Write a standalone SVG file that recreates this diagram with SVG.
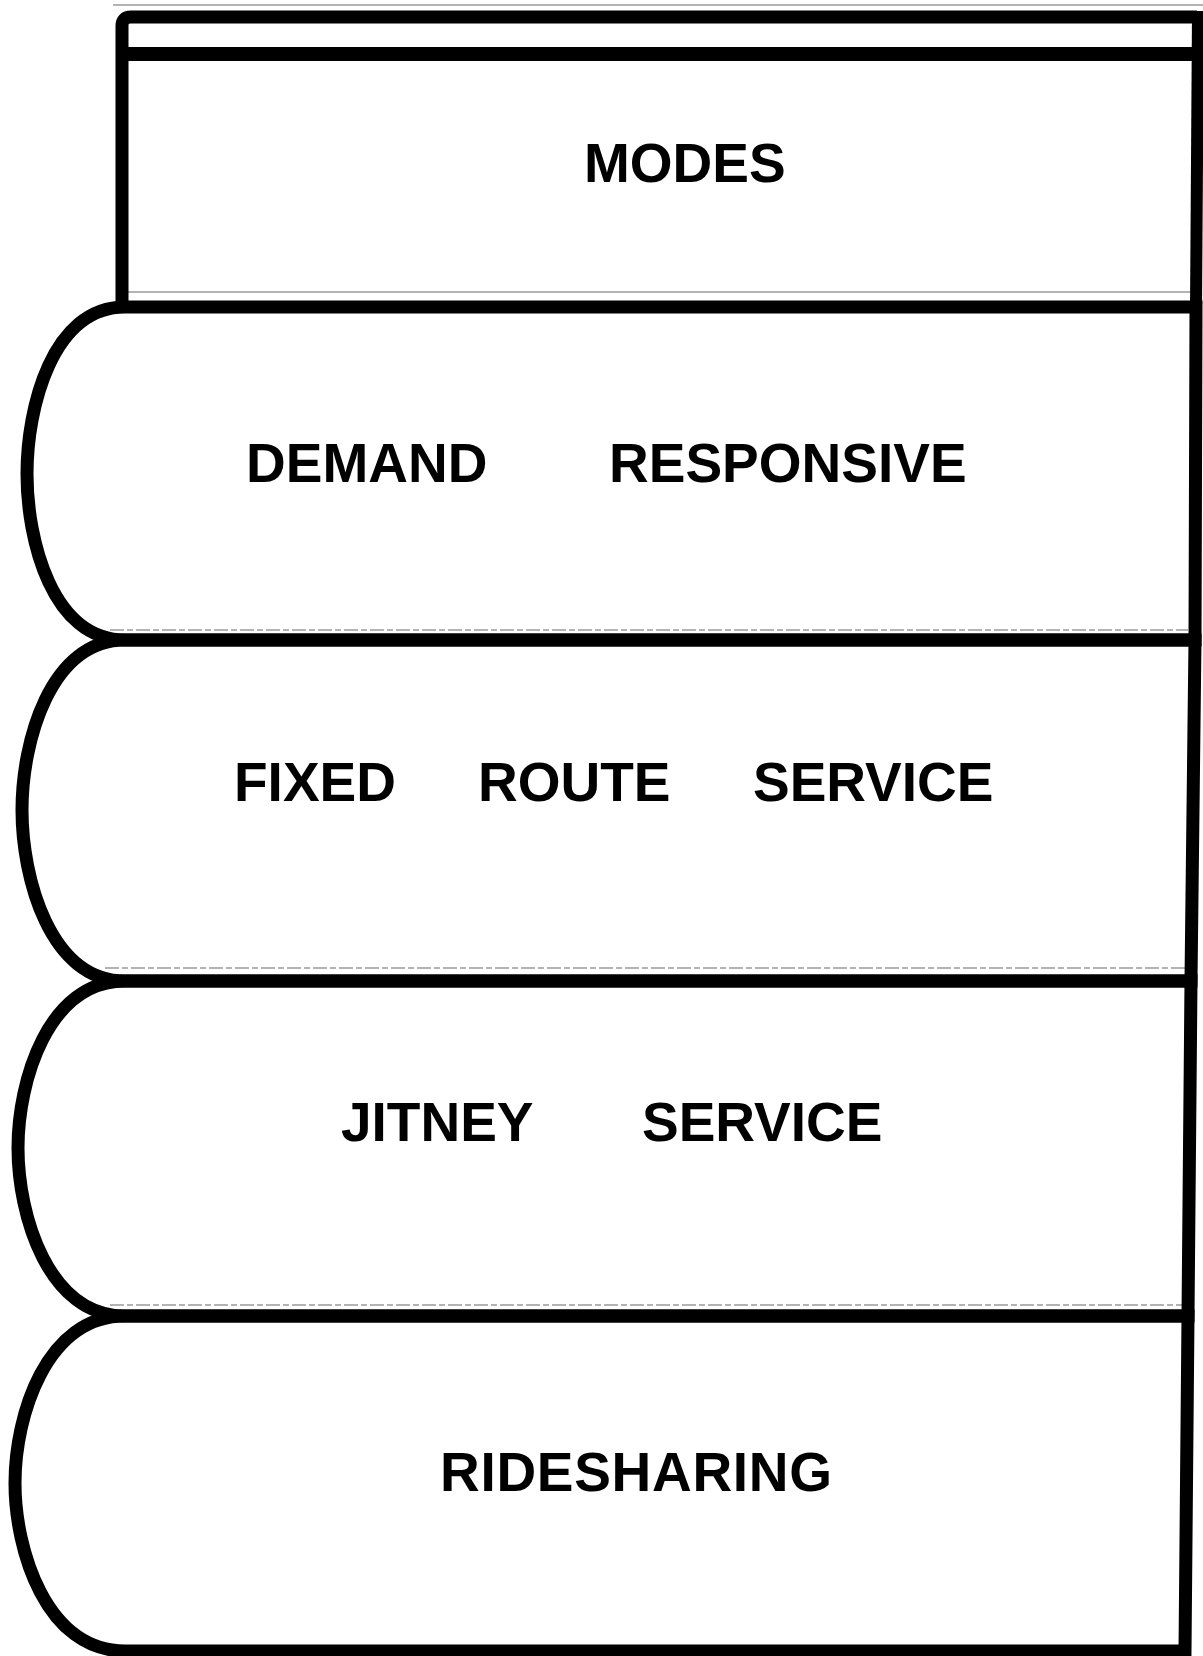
<svg xmlns="http://www.w3.org/2000/svg" width="1203" height="1656" viewBox="0 0 1203 1656">
<style>
.band{fill:none;stroke:#000;stroke-width:13;stroke-linejoin:miter}
.lbl{font-family:"Liberation Sans",Arial,sans-serif;font-weight:bold;font-size:55px;fill:#000}
.scan{stroke:#9a9a9a;stroke-width:1.5;fill:none}
</style>
<rect width="1203" height="1656" fill="#fff"/>
<g id="scan-lines">
<line class="scan" x1="113" y1="5" x2="1203" y2="5"/>
<line class="scan" x1="128" y1="292" x2="1192" y2="292"/>
<line class="scan" x1="110" y1="630" x2="1188" y2="630" stroke-dasharray="14 3 6 3"/>
<line class="scan" x1="105" y1="968" x2="1186" y2="968" stroke-dasharray="14 3 6 3"/>
<line class="scan" x1="110" y1="1305" x2="1182" y2="1305" stroke-dasharray="14 3 6 3"/>
</g>
<g id="modes">
<path class="band" d="M1197,17 L131,17 Q122,17 122,26 L122,307"/>
<line x1="122" y1="54" x2="1196" y2="54" stroke="#000" stroke-width="14"/>
<line x1="1198" y1="11" x2="1196" y2="310" stroke="#000" stroke-width="12"/>
<text class="lbl" x="584" y="182">MODES</text>
</g>
<g id="demand-responsive">
<path class="band" d="M125,307 L1196,307 L1195,640 L125,640 C52,640 27,540 27,474 C27,408 52,307 125,307 Z"/>
<text class="lbl" x="246" y="482">DEMAND</text>
<text class="lbl" x="609" y="482">RESPONSIVE</text>
</g>
<g id="fixed-route-service">
<path class="band" d="M125,640 L1195,640 L1191,981 L125,981 C50,981 22,878 22,810 C22,742 50,640 125,640 Z"/>
<text class="lbl" x="234" y="801">FIXED</text>
<text class="lbl" x="478" y="801">ROUTE</text>
<text class="lbl" x="753" y="801">SERVICE</text>
</g>
<g id="jitney-service">
<path class="band" d="M125,981 L1191,981 L1188,1316 L125,1316 C48,1316 18,1215 18,1148 C18,1081 48,981 125,981 Z"/>
<text class="lbl" x="341" y="1141">JITNEY</text>
<text class="lbl" x="642" y="1141">SERVICE</text>
</g>
<g id="ridesharing">
<path class="band" d="M125,1316 L1188,1316 L1185,1651 L125,1651 C46,1651 15,1550 15,1483 C15,1416 46,1316 125,1316 Z"/>
<text class="lbl" x="440" y="1491" letter-spacing="0.7">RIDESHARING</text>
</g>
</svg>
